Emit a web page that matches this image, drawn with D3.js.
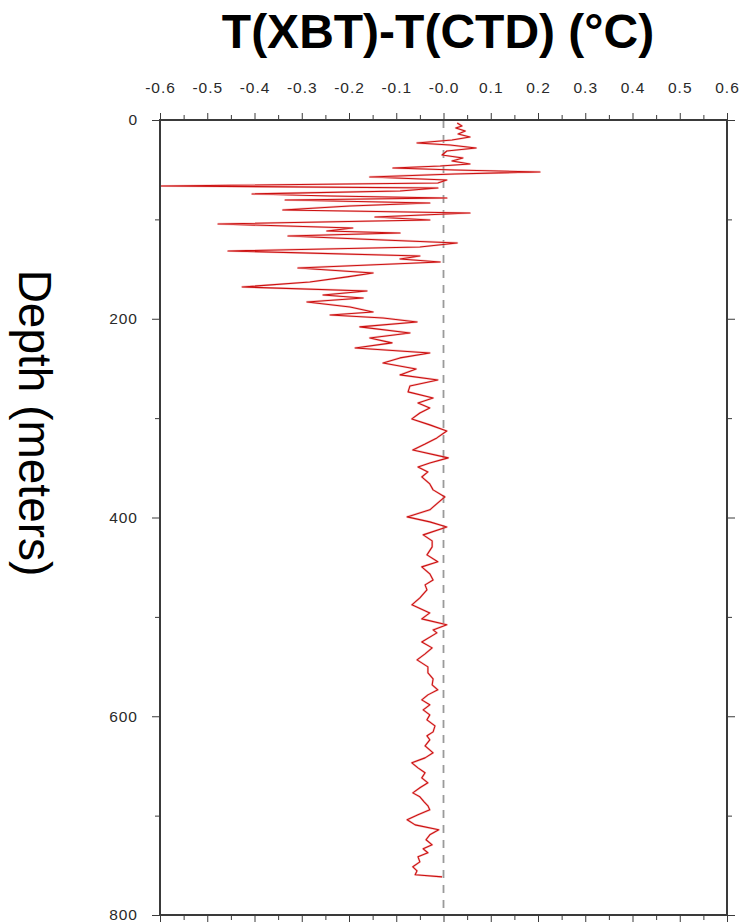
<!DOCTYPE html>
<html>
<head>
<meta charset="utf-8">
<script src="https://cdn.jsdelivr.net/npm/d3@7"></script>
<style>
  html, body { margin: 0; padding: 0; background: #fff; }
  svg { display: block; }
</style>
</head>
<body>
<svg id="chart" width="743" height="923"></svg>
<script>
// ---- Data ----
const depth = [
  3.0, 6.0, 8.0, 11.1, 14.1, 17.1, 20.1, 23.1, 25.2, 28.2, 31.2, 35.2, 38.2, 41.2, 44.3, 46.3,
  48.3, 50.3, 52.3, 54.3, 57.3, 60.4, 63.4, 66.4, 68.4, 71.4, 74.4, 76.5, 78.5, 80.5, 83.5, 86.5,
  90.5, 93.6, 97.6, 100.6, 104.6, 108.7, 111.7, 113.7, 116.7, 120.7, 123.7, 127.8, 131.8, 136.8,
  139.8, 142.9, 148.9, 153.9, 157.9, 163.0, 168.0, 172.0, 176.1, 179.1, 183.1, 188.1, 193.2, 196.2,
  199.2, 203.2, 208.2, 214.3, 219.3, 224.3, 229.4, 234.4, 239.4, 244.5, 250.5, 256.5, 261.6, 267.6,
  273.6, 279.7, 284.7, 289.7, 294.8, 300.8, 306.8, 312.9, 319.9, 326.0, 332.0, 340.0, 345.1, 349.1,
  354.1, 359.2, 366.2, 372.2, 379.3, 385.3, 392.3, 399.4, 404.4, 409.5, 417.5, 423.5, 429.6, 437.6,
  444.6, 449.7, 456.7, 462.8, 467.8, 472.8, 480.9, 487.9, 496.0, 502.0, 508.0, 513.1, 516.1, 525.2,
  531.2, 537.2, 543.3, 550.3, 556.3, 562.4, 568.4, 573.4, 578.5, 583.5, 588.5, 593.6, 598.6, 603.6,
  609.7, 615.7, 619.7, 623.7, 629.8, 636.8, 641.9, 646.9, 651.9, 656.9, 662.0, 667.0, 672.0, 677.1,
  681.1, 686.1, 690.1, 694.2, 699.2, 704.2, 709.3, 714.3, 719.3, 724.3, 729.4, 733.4, 737.4, 741.4,
  746.5, 751.5, 755.5, 759.5, 761.6
];
const dT = [
  0.029, 0.039, 0.026, 0.046, 0.031, 0.056, 0.018, -0.056, 0.014, 0.069, 0.007, -0.003, 0.041, 0.018, 0.056, -0.007,
  -0.107, 0.024, 0.204, 0.024, -0.156, 0.007, -0.012, -0.600, -0.012, -0.092, -0.405, -0.240, 0.007, -0.335, -0.029, -0.198,
  -0.340, 0.056, -0.145, -0.029, -0.477, -0.192, -0.247, -0.092, -0.329, -0.128, 0.029, -0.050, -0.456, -0.050,
  -0.092, -0.007, -0.308, -0.149, -0.204, -0.283, -0.426, -0.162, -0.255, -0.170, -0.289, -0.198, -0.149, -0.240,
  -0.128, -0.056, -0.177, -0.071, -0.156, -0.109, -0.187, -0.029, -0.092, -0.128, -0.058, -0.092, -0.012, -0.071,
  -0.075, -0.022, -0.054, -0.029, -0.050, -0.067, -0.029, 0.007, -0.014, -0.039, -0.065, 0.010, -0.029, -0.054,
  -0.033, -0.046, -0.029, -0.022, 0.003, -0.012, -0.029, -0.077, -0.029, 0.007, -0.043, -0.024, -0.024, -0.035,
  -0.012, -0.046, -0.029, -0.022, -0.039, -0.035, -0.050, -0.067, -0.029, -0.046, 0.007, -0.022, -0.014, -0.046,
  -0.024, -0.039, -0.056, -0.033, -0.033, -0.022, -0.024, -0.012, -0.033, -0.046, -0.029, -0.043, -0.029, -0.035,
  -0.018, -0.022, -0.035, -0.029, -0.039, -0.022, -0.039, -0.067, -0.054, -0.039, -0.046, -0.033, -0.050, -0.065,
  -0.050, -0.041, -0.033, -0.029, -0.054, -0.077, -0.060, -0.010, -0.029, -0.037, -0.024, -0.043, -0.033, -0.054,
  -0.050, -0.065, -0.056, -0.060, -0.003
];
const xTickValues = [-0.6, -0.5, -0.4, -0.3, -0.2, -0.1, 0.0, 0.1, 0.2, 0.3, 0.4, 0.5, 0.6];
const xTickLabels = ["-0.6", "-0.5", "-0.4", "-0.3", "-0.2", "-0.1", "-0.0", "0.1", "0.2", "0.3", "0.4", "0.5", "0.6"];
const xMinorValues = [-0.55, -0.45, -0.35, -0.25, -0.15, -0.05, 0.05, 0.15, 0.25, 0.35, 0.45, 0.55];
const yTickValues = [0, 200, 400, 600, 800];
const yTickLabels = ["0", "200", "400", "600", "800"];
const yMinorValues = [100, 300, 500, 700];
const titleText = "T(XBT)-T(CTD) (°C)";
const yLabelText = "Depth (meters)";

// ---- Layout ----
const L = 160, R = 727, T = 120, B = 915;
const svg = d3.select("#chart");
const x = d3.scaleLinear().domain([-0.6, 0.6]).range([L, R]);
const y = d3.scaleLinear().domain([0, 800]).range([T, B]);

const axisColor = "#3a3a3a";
const font = "'Liberation Sans', Arial, Helvetica, sans-serif";

// Zero dashed line
svg.append("line")
  .attr("x1", x(0)).attr("x2", x(0))
  .attr("y1", T).attr("y2", B)
  .attr("stroke", "#9a9a9a").attr("stroke-width", 1.8)
  .attr("stroke-dasharray", "8,7");

// Profile line
const pts = depth.map((d, i) => [dT[i], d]);
const line = d3.line().x(p => x(p[0])).y(p => y(p[1]));
svg.append("path")
  .attr("d", line(pts))
  .attr("fill", "none")
  .attr("stroke", "#f2a0a0")
  .attr("stroke-width", 2.2)
  .attr("stroke-linejoin", "round")
  .attr("opacity", 0.6);
svg.append("path")
  .attr("d", line(pts))
  .attr("fill", "none")
  .attr("stroke", "#cc1010")
  .attr("stroke-width", 1.1)
  .attr("stroke-linejoin", "round");

// Axes
function styleAxis(g, fs) {
  g.select(".domain").remove();
  g.selectAll(".tick line").attr("stroke", axisColor).attr("stroke-width", 1);
  g.selectAll(".tick text").attr("fill", "#2a2a2a")
    .style("font-family", font).style("font-size", fs + "px").style("letter-spacing", "1px");
}
const fmtX = d => xTickLabels[xTickValues.indexOf(d)];
const fmtY = d => yTickLabels[yTickValues.indexOf(d)];

// top
svg.append("g").attr("transform", `translate(0,${T})`)
  .call(d3.axisTop(x).tickValues(xTickValues).tickFormat(fmtX).tickSize(7).tickPadding(20))
  .call(g => styleAxis(g, 15.5));
svg.append("g").attr("transform", `translate(0,${T})`)
  .call(d3.axisTop(x).tickValues(xMinorValues).tickFormat("").tickSize(5))
  .call(g => styleAxis(g, 15.5));
// bottom
svg.append("g").attr("transform", `translate(0,${B})`)
  .call(d3.axisBottom(x).tickValues(xTickValues).tickFormat("").tickSize(7))
  .call(g => styleAxis(g, 15.5));
svg.append("g").attr("transform", `translate(0,${B})`)
  .call(d3.axisBottom(x).tickValues(xMinorValues).tickFormat("").tickSize(5))
  .call(g => styleAxis(g, 15.5));
// left
svg.append("g").attr("transform", `translate(${L},0)`)
  .call(d3.axisLeft(y).tickValues(yTickValues).tickFormat(fmtY).tickSize(8).tickPadding(14))
  .call(g => styleAxis(g, 15.5));
svg.append("g").attr("transform", `translate(${L},0)`)
  .call(d3.axisLeft(y).tickValues(yMinorValues).tickFormat("").tickSize(5))
  .call(g => styleAxis(g, 15.5));
// right
svg.append("g").attr("transform", `translate(${R},0)`)
  .call(d3.axisRight(y).tickValues(yTickValues).tickFormat("").tickSize(8))
  .call(g => styleAxis(g, 15.5));
svg.append("g").attr("transform", `translate(${R},0)`)
  .call(d3.axisRight(y).tickValues(yMinorValues).tickFormat("").tickSize(5))
  .call(g => styleAxis(g, 15.5));

// Frame
svg.append("rect")
  .attr("x", L).attr("y", T).attr("width", R - L).attr("height", B - T)
  .attr("fill", "none").attr("stroke", axisColor).attr("stroke-width", 2);

// Title
svg.append("text")
  .attr("x", 438).attr("y", 48)
  .attr("text-anchor", "middle")
  .style("font-family", font).style("font-weight", "bold").style("font-size", "48px")
  .attr("fill", "#000")
  .text(titleText);

// Y label
svg.append("text")
  .attr("transform", `translate(19,423) rotate(90)`)
  .attr("text-anchor", "middle")
  .style("font-family", font).style("font-size", "46px")
  .attr("fill", "#000")
  .text(yLabelText);
</script>
</body>
</html>
